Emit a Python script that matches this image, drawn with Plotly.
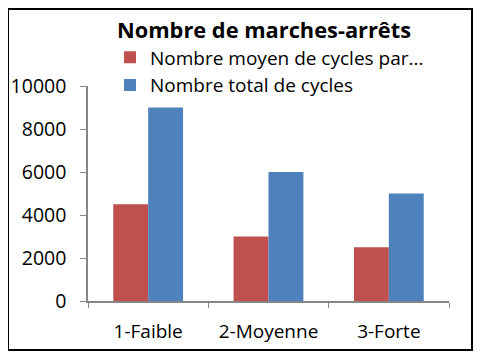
import plotly.graph_objects as go

categories = ["1-Faible", "2-Moyenne", "3-Forte"]
moyen_values = [4500, 3000, 2500]
total_values = [9000, 6000, 5000]
series_names = ["Nombre moyen de cycles par...", "Nombre total de cycles"]
y_ticks = [0, 2000, 4000, 6000, 8000, 10000]
y_tick_labels = ["0", "2000", "4000", "6000", "8000", "10000"]

font_family = "Open Sans, Liberation Sans, sans-serif"

fig = go.Figure()
fig.add_trace(go.Bar(x=categories, y=moyen_values, name=series_names[0],
                     marker=dict(color="#C0504D", line=dict(width=0))))
fig.add_trace(go.Bar(x=categories, y=total_values, name=series_names[1],
                     marker=dict(color="#4F81BD", line=dict(width=0))))

fig.update_layout(
    width=475, height=351,
    margin=dict(l=80, r=34, t=78, b=58, autoexpand=False),
    paper_bgcolor="white", plot_bgcolor="white",
    barmode="group", bargap=0.42, bargroupgap=0,
    font=dict(family=font_family, size=18, color="black"),
    title=dict(text="<b>Nombre de marches-arrêts</b>", x=0.539, xanchor="center",
               y=0.937, yanchor="middle", font=dict(size=21.8, color="black")),
    legend=dict(x=0.061, y=1.221, xanchor="left", yanchor="top",
                font=dict(size=19), bgcolor="rgba(0,0,0,0)",
                itemwidth=30, tracegroupgap=0),
    showlegend=True,
    xaxis=dict(showline=True, linecolor="#868686", linewidth=1.5, automargin=False,
               ticks="outside", tickson="boundaries", ticklen=5, tickcolor="#868686",
               showgrid=False, tickfont=dict(size=19), ticklabelstandoff=12),
    yaxis=dict(range=[0, 10000], tickvals=y_ticks, ticktext=y_tick_labels, showline=True,
               linecolor="#868686", automargin=False,
               linewidth=1.5, ticks="outside", ticklen=6, tickcolor="#868686",
               showgrid=False, zeroline=False, tickfont=dict(size=19.5), ticklabelstandoff=10),
)

fig.add_shape(type="rect", xref="paper", yref="paper",
              x0=-0.2216, x1=1.0637, y0=-0.228, y1=1.358,
              line=dict(color="black", width=2), fillcolor="rgba(0,0,0,0)", layer="below")

fig.write_html("out.html")
